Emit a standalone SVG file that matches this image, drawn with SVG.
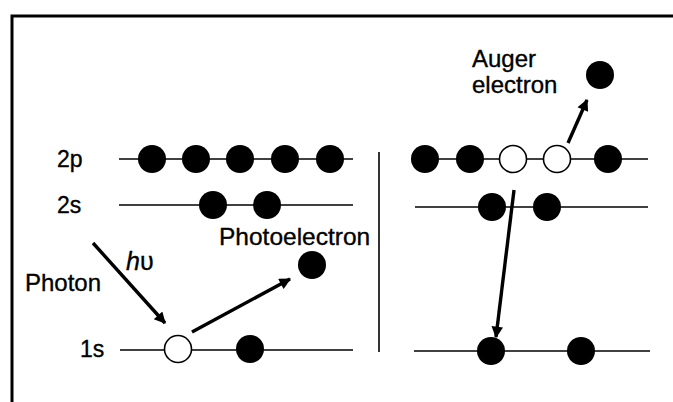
<svg xmlns="http://www.w3.org/2000/svg" width="673" height="402" viewBox="0 0 673 402">
<style>
.lvl{stroke:#000;stroke-width:1.6;fill:none}
.e{fill:#000}
.h{fill:#fff;stroke:#000;stroke-width:1.6}
.arr{stroke:#000;stroke-width:3.4;fill:none;marker-end:url(#ah)}
.t{font-family:"Liberation Sans",Arial,sans-serif;font-size:23px;fill:#000;stroke:#000;stroke-width:0.35}
</style>
<defs>
<marker id="ah" viewBox="0 0 10 10" refX="9" refY="5" markerWidth="4" markerHeight="3.4" orient="auto" markerUnits="strokeWidth">
<path d="M0,0 L10,5 L0,10 z" fill="#000"/>
</marker>
</defs>
<rect width="673" height="402" fill="#fff"/>
<g id="frame">
<path d="M12,402 V16 H673" stroke="#000" stroke-width="3" fill="none"/>
<line x1="379" y1="152" x2="379" y2="352" stroke="#000" stroke-width="1.6"/>
</g>
<g id="levels">
<line class="lvl" x1="119" y1="159" x2="353" y2="159"/>
<line class="lvl" x1="119" y1="205" x2="353" y2="205"/>
<line class="lvl" x1="120" y1="350" x2="353" y2="350"/>
<line class="lvl" x1="411" y1="159" x2="648" y2="159"/>
<line class="lvl" x1="415" y1="207" x2="648" y2="207"/>
<line class="lvl" x1="414" y1="351" x2="650" y2="351"/>
</g>
<g id="labels">
<text class="t" x="57" y="167">2p</text>
<text class="t" x="57" y="213">2s</text>
<text class="t" x="80" y="357">1s</text>
<text class="t" x="25" y="291" style="font-size:24px">Photon</text>
<text class="t" x="126" y="270" style="font-size:25px"><tspan font-style="italic">h</tspan>υ</text>
<text class="t" x="219" y="245" style="font-size:24.5px">Photoelectron</text>
<text class="t" x="472" y="67" style="font-size:24px">Auger</text>
<text class="t" x="472" y="93" style="font-size:24px">electron</text>
</g>
<g id="left-electrons">
<circle class="e" cx="152" cy="159" r="14"/>
<circle class="e" cx="196" cy="159" r="14"/>
<circle class="e" cx="240" cy="159" r="14"/>
<circle class="e" cx="285" cy="159" r="14"/>
<circle class="e" cx="330" cy="159" r="14"/>
<circle class="e" cx="213" cy="205" r="14"/>
<circle class="e" cx="267" cy="205" r="14"/>
<circle class="h" cx="178" cy="349" r="13.5"/>
<circle class="e" cx="250" cy="349" r="14"/>
<circle class="e" cx="312" cy="265" r="14"/>
</g>
<g id="right-electrons">
<circle class="e" cx="425" cy="159" r="14"/>
<circle class="e" cx="470" cy="159" r="14"/>
<circle class="h" cx="513" cy="159" r="13.5"/>
<circle class="h" cx="557" cy="159" r="13.5"/>
<circle class="e" cx="608" cy="159" r="14"/>
<circle class="e" cx="492" cy="207" r="14"/>
<circle class="e" cx="547" cy="207" r="14"/>
<circle class="e" cx="491" cy="351" r="14"/>
<circle class="e" cx="581" cy="351" r="14"/>
<circle class="e" cx="600" cy="75" r="14"/>
</g>
<g id="connectors">
<line class="arr" x1="93" y1="243" x2="165" y2="323"/>
<line class="arr" x1="192" y1="332" x2="290" y2="279"/>
<line class="arr" x1="568" y1="143" x2="587" y2="100"/>
<line class="arr" x1="514" y1="190" x2="496" y2="337"/>
</g>
</svg>
